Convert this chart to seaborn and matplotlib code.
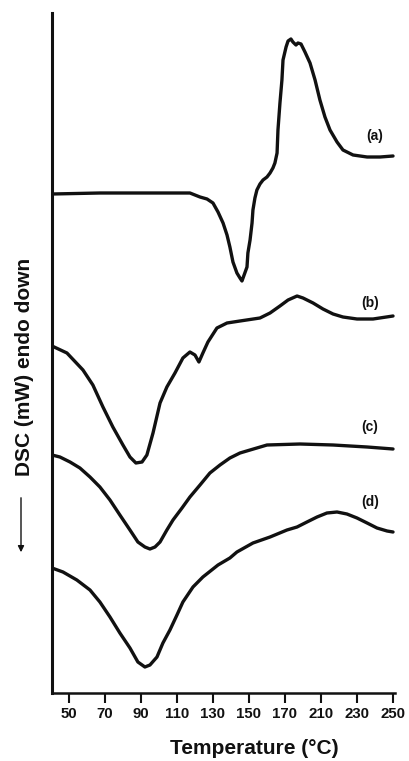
import matplotlib
matplotlib.use("Agg")
import matplotlib.pyplot as plt
import seaborn as sns
import pandas as pd

# Temperature axis (visual scale of the original figure) and DSC signal (a.u.)
T_a = [40.6, 67.2, 95.0, 117.2, 122.8, 126.7, 130.0, 132.8, 135.6, 137.8, 139.4, 141.1,
       143.3, 145.0, 146.1, 146.7, 148.9, 149.4, 150.6, 151.7, 152.2, 153.3, 154.4, 156.1,
       157.8, 160.0, 161.7, 163.3, 164.4, 165.6, 166.1, 167.2, 168.3, 168.9, 170.6, 171.7,
       173.3, 174.4, 176.1, 177.2, 178.9, 181.1, 183.9, 186.7, 189.4, 192.2, 195.0, 198.9,
       202.2, 207.8, 215.6, 222.8, 230.0]
S_a = [49.9, 50.0, 50.0, 50.0, 49.6, 49.4, 49.0, 48.1, 47.0, 45.8, 44.6, 43.1,
       42.0, 41.5, 41.2, 41.5, 42.6, 44.0, 45.3, 47.0, 48.3, 49.5, 50.3, 50.9,
       51.3, 51.6, 52.0, 52.5, 53.0, 54.0, 56.3, 59.0, 61.3, 63.3, 64.6, 65.2,
       65.4, 65.1, 64.8, 65.0, 64.9, 64.1, 63.0, 61.3, 59.3, 57.6, 56.3, 55.1,
       54.3, 53.8, 53.6, 53.6, 53.7]

T_b = [40.6, 48.9, 57.8, 63.3, 68.9, 74.4, 80.0, 83.9, 87.2, 90.6, 93.3, 96.7, 100.6,
       104.4, 108.9, 113.3, 117.2, 120.0, 122.2, 124.4, 127.2, 132.2, 137.8, 145.0, 156.1,
       161.7, 167.2, 171.7, 176.7, 180.0, 185.6, 191.1, 196.7, 202.2, 210.0, 218.9, 230.0]
S_b = [34.7, 34.0, 32.3, 30.8, 28.6, 26.6, 24.8, 23.6, 23.0, 23.1, 23.8, 26.0, 29.0,
       30.6, 32.0, 33.5, 34.1, 33.8, 33.1, 34.0, 35.1, 36.5, 37.0, 37.2, 37.5,
       38.0, 38.7, 39.3, 39.7, 39.5, 39.0, 38.4, 37.9, 37.6, 37.4, 37.4, 37.7]

T_c = [40.6, 45.0, 50.6, 56.1, 61.7, 67.2, 72.8, 78.3, 83.9, 88.3, 92.2, 95.0, 97.8,
       100.6, 104.4, 107.8, 112.8, 117.2, 122.8, 128.3, 133.9, 139.4, 145.0, 150.6,
       160.0, 178.3, 196.7, 215.6, 230.0]
S_c = [23.8, 23.6, 23.1, 22.5, 21.6, 20.6, 19.3, 17.8, 16.3, 15.1, 14.6, 14.4, 14.6,
       15.1, 16.3, 17.3, 18.5, 19.6, 20.8, 22.0, 22.8, 23.5, 24.0, 24.3,
       24.8, 24.9, 24.8, 24.6, 24.4]

T_d = [40.6, 46.7, 54.4, 61.7, 67.2, 72.8, 78.3, 83.9, 88.3, 92.2, 95.0, 98.9, 102.2,
       106.1, 110.0, 113.3, 118.9, 124.4, 132.8, 139.4, 143.3, 152.2, 161.7, 171.1,
       176.7, 182.2, 187.8, 193.3, 198.9, 204.4, 210.0, 215.6, 221.1, 226.7, 230.0]
S_d = [12.5, 12.1, 11.3, 10.3, 9.1, 7.6, 6.0, 4.5, 3.1, 2.6, 2.8, 3.6, 5.0,
       6.3, 7.8, 9.1, 10.6, 11.6, 12.8, 13.5, 14.1, 15.0, 15.6, 16.3,
       16.6, 17.1, 17.6, 18.0, 18.1, 17.9, 17.5, 17.0, 16.5, 16.2, 16.1]

curve_labels = ["(a)", "(b)", "(c)", "(d)"]
label_T = [220.0, 217.2, 217.2, 217.2]
label_S = [55.7, 39.0, 26.6, 19.1]

tick_pos = [50, 70, 90, 110, 130, 150, 170, 190, 210, 230]
tick_labels = ["50", "70", "90", "110", "130", "150", "170", "210", "230", "250"]

frames = []
for name, t, s in zip(curve_labels, [T_a, T_b, T_c, T_d], [S_a, S_b, S_c, S_d]):
    frames.append(pd.DataFrame({"T": t, "S": s, "curve": name}))
df = pd.concat(frames, ignore_index=True)

sns.set_theme(style="white")
plt.rcParams["font.family"] = ["Liberation Sans", "DejaVu Sans"]
plt.rcParams["font.weight"] = "bold"

fig = plt.figure(figsize=(4.09, 7.61), dpi=100)
ax = fig.add_axes([52 / 409, 68 / 761, 343 / 409, 680 / 761])

sns.lineplot(data=df, x="T", y="S", hue="curve", palette=["#111111"] * 4,
             linewidth=2.4, legend=False, ax=ax, sort=False)
for ln in ax.get_lines():
    ln.set_solid_joinstyle("round")
    ln.set_solid_capstyle("round")

for lab, x, y in zip(curve_labels, label_T, label_S):
    ax.text(x, y, lab, fontsize=10, fontweight="bold", ha="center", va="center", color="#111111")

ax.set_xlim(40.6, 231.1)
ax.set_ylim(0, 68)
ax.set_xticks(tick_pos)
ax.set_xticklabels(tick_labels, fontsize=10.8, fontweight="bold")
ax.set_yticks([])
ax.tick_params(axis="x", direction="out", length=7, width=1.5, color="#111111",
               bottom=True, pad=3, labelcolor="#111111")
for side in ["top", "right"]:
    ax.spines[side].set_visible(False)
ax.spines["left"].set_linewidth(2.2)
ax.spines["bottom"].set_linewidth(1.8)
ax.spines["left"].set_color("#111111")
ax.spines["bottom"].set_color("#111111")
ax.set_xlabel("")
ax.set_ylabel("")

fig.text(254 / 409, 1 - 748 / 761, "Temperature (°C)", fontsize=15, fontweight="bold",
         ha="center", va="center", color="#111111")
fig.text(25 / 409, 1 - 367 / 761, "DSC (mW) endo down", rotation=90, fontsize=15,
         fontweight="bold", ha="center", va="center", color="#111111")
fig.patches.append(matplotlib.patches.FancyArrowPatch(
    (21 / 409, 1 - 495 / 761), (21 / 409, 1 - 555 / 761), transform=fig.transFigure,
    arrowstyle="-|>", mutation_scale=9, linewidth=1.0, color="#111111"))

fig.savefig("out.png", dpi=100, facecolor="white")
